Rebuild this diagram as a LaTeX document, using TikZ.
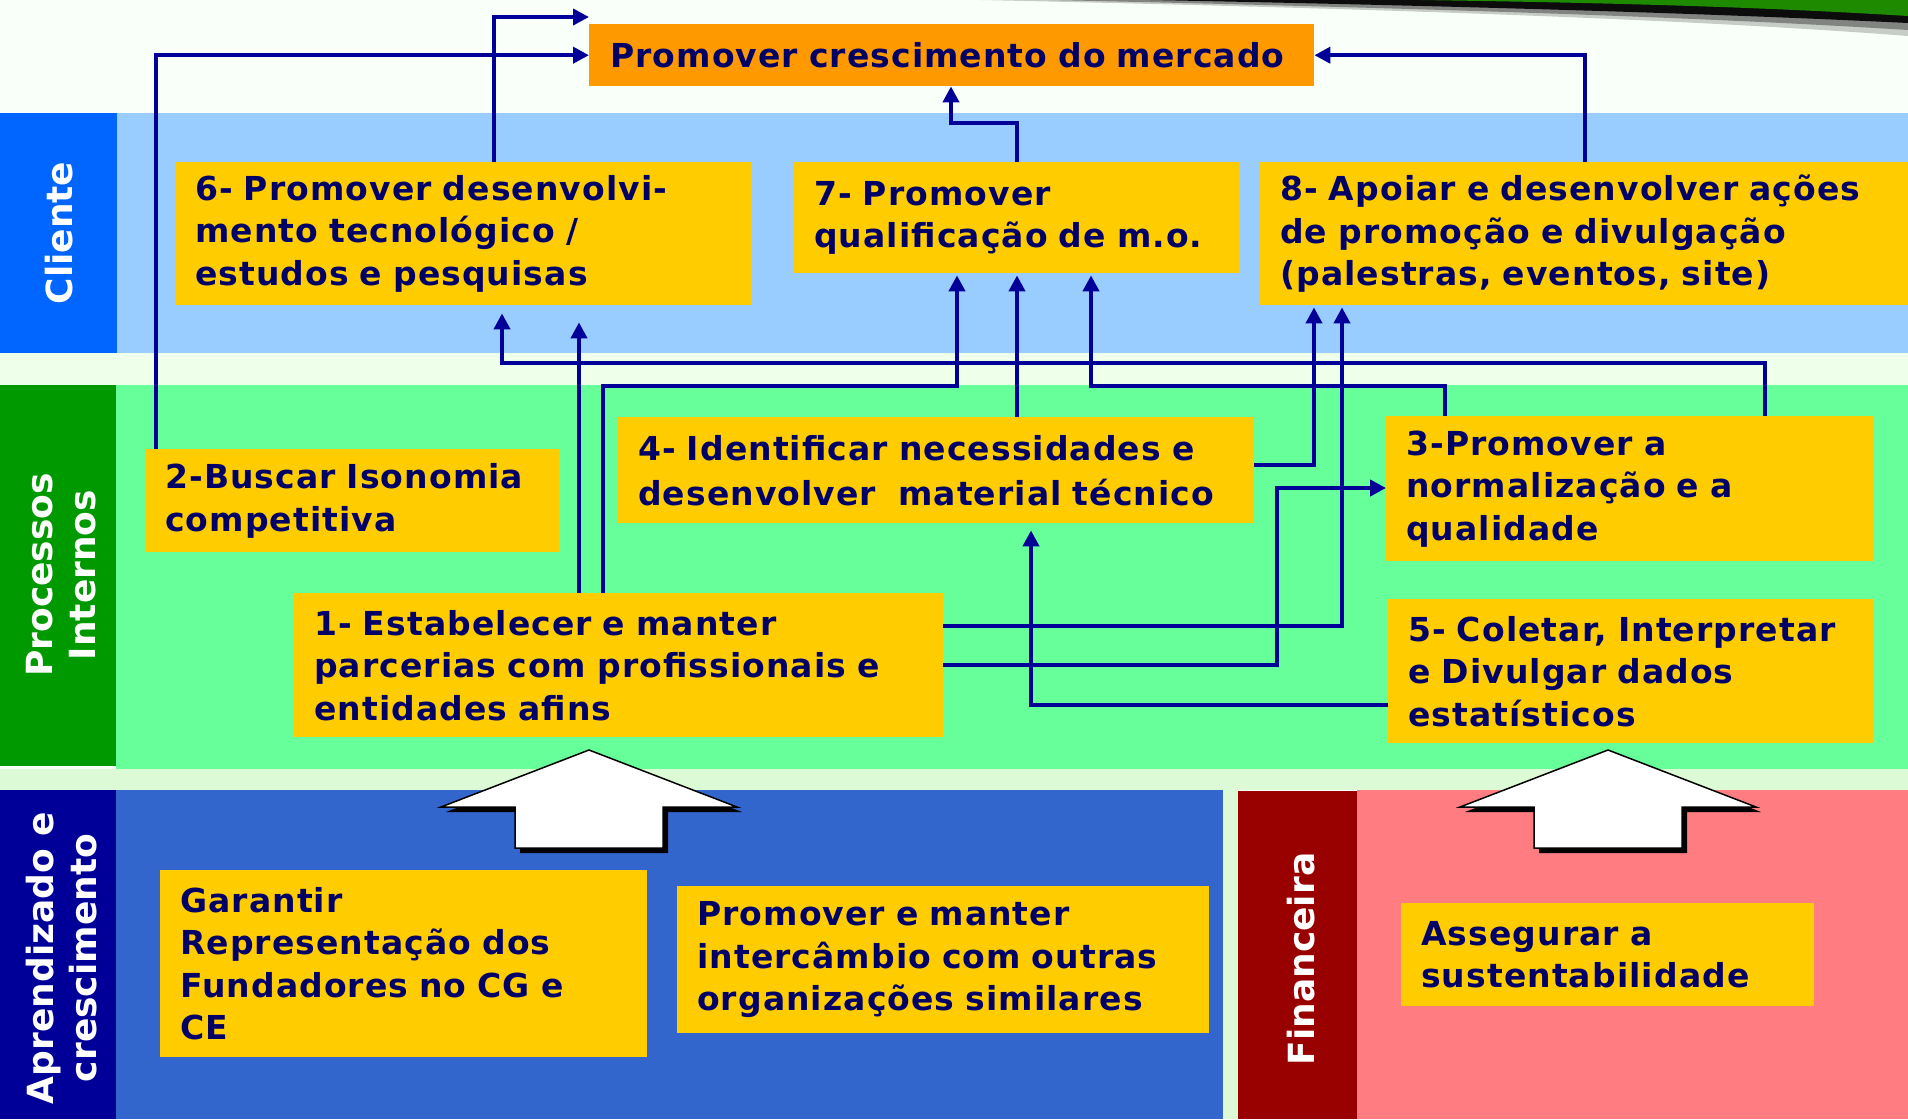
\documentclass[tikz,border=0pt]{standalone}
\usepackage{fontspec}
\setmainfont{Liberation Sans}
\newfontfamily\boxfont{DejaVu Sans}[LetterSpace=3.3]
\newfontfamily\labfont{DejaVu Sans}
\usetikzlibrary{arrows.meta,calc}
\definecolor{bgwhite}{HTML}{F9FFF9}
\definecolor{gapA}{HTML}{EEFFEA}
\definecolor{gapB}{HTML}{DDFAD6}
\definecolor{cliD}{HTML}{0066FF}
\definecolor{cliL}{HTML}{99CCFF}
\definecolor{proD}{HTML}{009900}
\definecolor{proL}{HTML}{66FF99}
\definecolor{aprD}{HTML}{000099}
\definecolor{aprL}{HTML}{3366CC}
\definecolor{finD}{HTML}{990000}
\definecolor{finL}{HTML}{FF7C80}
\definecolor{boxY}{HTML}{FFCC00}
\definecolor{boxO}{HTML}{FF9900}
\definecolor{txt}{HTML}{000066}
\definecolor{arr}{HTML}{000099}
\definecolor{swgreen}{HTML}{1E8A00}
\begin{document}
\begin{tikzpicture}[x=1pt,y=-1pt,
  obj/.style={fill=boxY, anchor=north west, inner xsep=20pt, inner ysep=0pt,
    align=left, text=txt, font=\boxfont\bfseries\fontsize{33}{42.5}\selectfont},
  lab/.style={text=white, inner sep=0pt, font=\labfont\bfseries\fontsize{36}{43}\selectfont},
  con/.style={draw=arr, line width=4pt, -{Triangle[length=16pt,width=16pt]}},
  bigarrow/.style={fill=white, draw=black, line width=1.5pt, line join=miter}]
\useasboundingbox (0,0) rectangle (1908,1119);
% background and bands
\fill[bgwhite] (0,0) rectangle (1908,1119);
\fill[gapA] (0,353) rectangle (1908,385);
\fill[gapB] (0,769) rectangle (1908,790);
\fill[cliL] (117,113) rectangle (1908,353);
\fill[cliD] (0,113) rectangle (117,353);
\fill[proL] (116,385) rectangle (1908,769);
\fill[proD] (0,385) rectangle (116,766);
\fill[aprL] (116,790) rectangle (1223,1119);
\fill[aprD] (0,790) rectangle (116,1119);
\fill[gapB] (1223,790) rectangle (1238,1119);
\fill[finL] (1357,790) rectangle (1908,1119);
\fill[finD] (1238,791) rectangle (1357,1119);
% swoosh at top right
\fill[black, opacity=0.2] (980,0) .. controls (1400,9) and (1700,20) .. (1908,36) -- (1908,0) -- cycle;
\fill[black, opacity=0.35] (1050,0) .. controls (1420,8) and (1700,17) .. (1908,30) -- (1908,0) -- cycle;
\fill[black, opacity=0.9] (1150,0) .. controls (1460,6) and (1700,13) .. (1908,23) -- (1908,0) -- cycle;
\fill[swgreen] (1420,0) .. controls (1620,3) and (1760,7) .. (1908,16) -- (1908,0) -- cycle;
% perspective labels
\node[lab, rotate=90] (lcli) at (59,233) {Cliente};
\node[lab, rotate=90, align=center] (lpro) at (61,575) {Processos\\Internos};
\node[lab, rotate=90, align=center] (lapr) at (62,958) {Aprendizado e\\crescimento};
\node[lab, rotate=90] (lfin) at (1301,959) {Financeira};
% boxes
\node[obj, fill=boxO, minimum width=724pt, minimum height=62pt, text width=683pt, inner xsep=21pt] (org) at (589,24) {Promover crescimento do mercado};
\node[obj, minimum width=576pt, minimum height=143pt, text width=536pt] (b6) at (175,162) {6- Promover desenvolvi-\\mento tecnológico /\\estudos e pesquisas};
\node[obj, minimum width=445pt, minimum height=111pt, text width=405pt] (b7) at (794,162) {7- Promover\\qualificação de m.o.};
\node[obj, minimum width=648pt, minimum height=143pt, text width=608pt] (b8) at (1260,162) {8- Apoiar e desenvolver ações\\de promoção e divulgação\\(palestras, eventos, site)};
\node[obj, minimum width=413pt, minimum height=103pt, text width=375pt, inner xsep=19pt] (b2) at (146,449) {2-Buscar Isonomia\\competitiva};
\node[obj, minimum width=636pt, minimum height=106pt, text width=596pt, font=\boxfont\bfseries\fontsize{33}{45}\selectfont] (b4) at (618,417) {4- Identificar necessidades e\\desenvolver~ material técnico};
\node[obj, minimum width=487pt, minimum height=145pt, text width=447pt] (b3) at (1386,416) {3-Promover a\\normalização e a\\qualidade};
\node[obj, minimum width=649pt, minimum height=144pt, text width=609pt] (b1) at (294,593) {1- Estabelecer e manter\\parcerias com profissionais e\\entidades afins};
\node[obj, minimum width=485pt, minimum height=144pt, text width=445pt] (b5) at (1388,599) {5- Coletar, Interpretar\\e Divulgar dados\\estatísticos};
\node[obj, minimum width=487pt, minimum height=187pt, text width=447pt] (bg) at (160,870) {Garantir\\Representação dos\\Fundadores no CG e\\CE};
\node[obj, minimum width=532pt, minimum height=147pt, text width=492pt] (bp) at (677,886) {Promover e manter\\intercâmbio com outras\\organizações similares};
\node[obj, minimum width=413pt, minimum height=103pt, text width=373pt] (ba) at (1401,903) {Assegurar a\\sustentabilidade};
% connectors
\coordinate (tipB) at ($(org.north west)+(0,-7)$);
\draw[con] ($(b2.north west)+(10,0)$) |- (org.west);
\draw[con] ($(b6.north west)+(318.5,0)$) |- (tipB);
\draw[con] ($(b7.north west)+(223,0)$) -- ++(0,-39) -| ($(org.south west)+(362,0)$);
\draw[con] ($(b8.north west)+(325,0)$) |- (org.east);
\draw[con] ($(b3.north west)+(379,0)$) -- ++(0,-53) -| ($(b6.south west)+(327,8)$);
\draw[con] ($(b1.north west)+(285,0)$) -- ($(b6.south west)+(404,17)$);
\draw[con] ($(b1.north west)+(309,0)$) -- ++(0,-207) -| ($(b7.south west)+(163,2)$);
\draw[con] ($(b4.north west)+(399,0)$) -- ($(b7.south west)+(223,2)$);
\draw[con] ($(b3.north west)+(59,0)$) -- ++(0,-30) -| ($(b7.south west)+(297,2)$);
\draw[con] ($(b4.north east)+(0,48)$) -| ($(b8.south west)+(54,2)$);
\draw[con] ($(b1.north east)+(0,33)$) -| ($(b8.south west)+(82,2)$);
\draw[con] ($(b1.north east)+(0,72)$) -| ($(b3.north west)+(-109,72)$) -- ($(b3.north west)+(0,72)$);
\draw[con] ($(b5.north west)+(0,106)$) -| ($(b4.south west)+(413,7)$);
% big white arrows
\foreach \cx in {589,1608} {
  \fill[black] (\cx+5,755) -- (\cx+153,812) -- (\cx+79,812) -- (\cx+79,853) -- (\cx-69,853) -- (\cx-69,812) -- (\cx-143,812) -- cycle;
  \draw[bigarrow] (\cx,750) -- (\cx+148,807) -- (\cx+74,807) -- (\cx+74,848) -- (\cx-74,848) -- (\cx-74,807) -- (\cx-148,807) -- cycle;
}
\end{tikzpicture}
\end{document}
